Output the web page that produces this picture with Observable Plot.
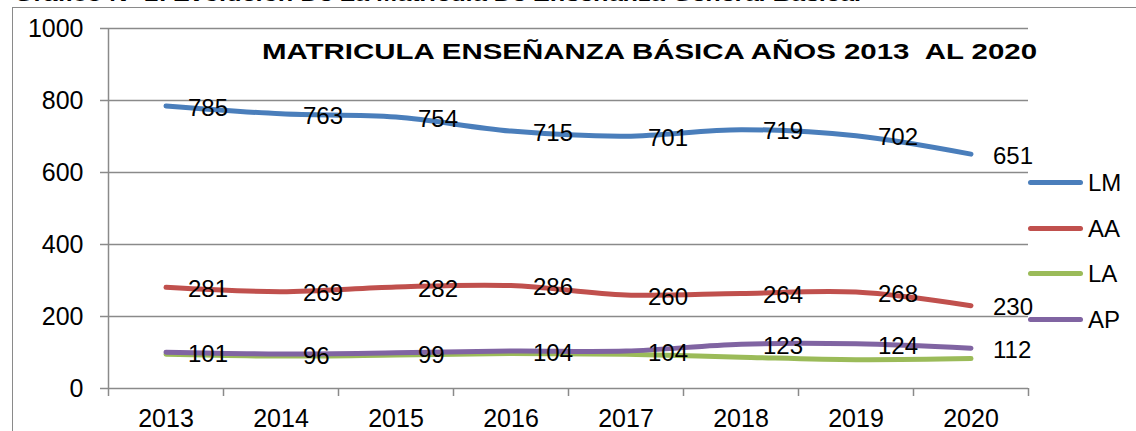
<!DOCTYPE html>
<html>
<head>
<meta charset="utf-8">
<script src="https://cdn.jsdelivr.net/npm/d3@7"></script>
<script src="https://cdn.jsdelivr.net/npm/@observablehq/plot@0.6"></script>
<style>
  html, body { margin: 0; padding: 0; background: #fff; }
  #wrap { position: relative; width: 1136px; height: 431px; overflow: hidden; font-family: "Liberation Sans", Arial, sans-serif; }
  #frame { position: absolute; left: 12px; top: 7px; width: 1200px; height: 500px; border-left: 1px solid #8a8a8a; border-top: 1px solid #8a8a8a; }
  #header { position: absolute; left: 14px; top: -18px; font-size: 21px; line-height: 24px; font-weight: bold; white-space: nowrap; color: #000; transform-origin: 0 0; }
  #title { position: absolute; left: 262px; top: 40px; font-size: 22px; line-height: 24px; font-weight: bold; white-space: nowrap; color: #000; transform-origin: 0 0; }
  .leg { position: absolute; left: 1028px; height: 24px; }
  .leg .sw { position: absolute; left: 0; top: 9px; width: 55px; height: 5px; border-radius: 3px; }
  .leg .lb { position: absolute; left: 60px; top: -2px; font-size: 24px; line-height: 27px; color: #000; white-space: nowrap; }
  #chart { position: absolute; left: 0; top: 0; }
</style>
</head>
<body>
<div id="wrap">
  <div id="frame"></div>
  <div id="header">Grafico N° 2: <i>Evolución De La Matricula De Enseñanza General Básica.</i></div>
  <div id="chart"></div>
  <div id="title">MATRICULA ENSEÑANZA BÁSICA AÑOS 2013&nbsp; AL 2020</div>
  <div id="legend"></div>
</div>
<script>
const years = [2013, 2014, 2015, 2016, 2017, 2018, 2019, 2020];
const seriesNames = ["LM", "AA", "LA", "AP"];
const seriesColors = ["#4A7EBB", "#C0504D", "#9BBB59", "#8064A2"];
const LM = [785, 763, 754, 715, 701, 719, 702, 651];
const AA = [281, 269, 282, 286, 260, 264, 268, 230];
const LA = [95, 90, 93, 97, 95, 87, 80, 83];
const AP = [101, 96, 99, 104, 104, 123, 124, 112];
const labeledSeries = ["LM", "AA", "AP"];
const yTicks = [0, 200, 400, 600, 800, 1000];
const xBoundaries = [2012.5, 2013.5, 2014.5, 2015.5, 2016.5, 2017.5, 2018.5, 2019.5, 2020.5];

const valuesBySeries = {LM, AA, LA, AP};
const data = seriesNames.flatMap(s => years.map((year, i) => ({series: s, year, value: valuesBySeries[s][i]})));
const labels = data.filter(d => labeledSeries.includes(d.series));

const gray = "#8a8a8a";

const chart = Plot.plot({
  width: 1136,
  height: 431,
  marginLeft: 108,
  marginRight: 108,
  marginTop: 28,
  marginBottom: 43,
  style: {fontFamily: "'Liberation Sans', Arial, sans-serif", fontSize: "24px", color: "#000", background: "transparent", overflow: "visible"},
  x: {domain: [2012.5, 2020.5]},
  y: {domain: [0, 1000]},
  color: {domain: seriesNames, range: seriesColors},
  marks: [
    Plot.ruleY(yTicks, {stroke: gray, strokeWidth: 1.5, strokeOpacity: 1}),
    Plot.ruleX([2012.5], {y1: 0, y2: 1000, stroke: gray, strokeWidth: 1.5, strokeOpacity: 1}),
    Plot.axisY({ticks: yTicks, tickSize: 8, tickPadding: 17, tickFormat: d => String(d), stroke: gray, strokeWidth: 1.5, strokeOpacity: 1, fontSize: 25, fill: "#000", label: null}),
    Plot.axisX({ticks: xBoundaries, tickSize: 8, tickFormat: () => "", stroke: gray, strokeWidth: 1.5, strokeOpacity: 1, label: null}),
    Plot.axisX({ticks: years, tickSize: 0, tickPadding: 21, tickFormat: d => String(d), fontSize: 25, fill: "#000", label: null}),
    ...seriesNames.map(s => Plot.line(data.filter(d => d.series === s), {
      x: "year", y: "value", stroke: "series", strokeWidth: 5, curve: "catmull-rom", strokeLinecap: "round", strokeLinejoin: "round"
    })),
    Plot.text(labels, {x: "year", y: "value", text: d => String(d.value), textAnchor: "start", dx: 22, dy: 2, fontSize: 24, fill: "#000"})
  ]
});
document.getElementById("chart").appendChild(chart);

function fitWidth(el, target) {
  const w = el.getBoundingClientRect().width;
  if (w > 0) el.style.transform = `scaleX(${target / w})`;
}
fitWidth(document.getElementById("title"), 775);
fitWidth(document.getElementById("header"), 848);

const legendYs = [182, 228, 273, 319];
const legend = document.getElementById("legend");
seriesNames.forEach((s, i) => {
  const item = document.createElement("div");
  item.className = "leg";
  item.style.top = (legendYs[i] - 11) + "px";
  item.innerHTML = `<div class="sw" style="background:${seriesColors[i]}"></div><div class="lb">${s}</div>`;
  legend.appendChild(item);
});
</script>
</body>
</html>
